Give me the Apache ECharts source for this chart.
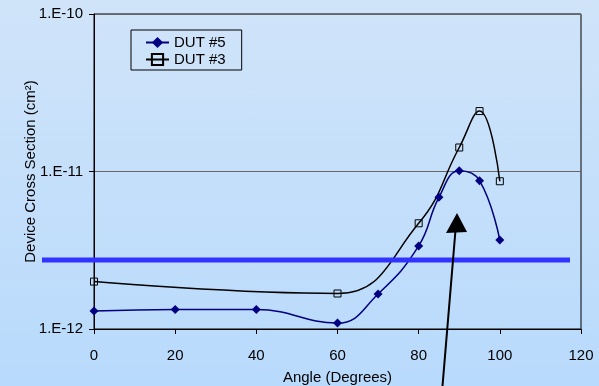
<!DOCTYPE html>
<html>
<head>
<meta charset="utf-8">
<script src="https://cdn.jsdelivr.net/npm/echarts@6/dist/echarts.min.js"></script>
<style>
  html, body { margin: 0; padding: 0; }
  #chart {
    width: 599px; height: 386px;
    background: linear-gradient(to bottom, #d0e4f9 0%, #b8dafc 100%);
  }
</style>
</head>
<body>
<div id="chart"></div>
<script>
// angle values (degrees) and device cross section (cm^2)
const dut5Angles = [0, 20, 40, 60, 70, 80, 85, 90, 95, 100]
const dut5Values = [1.30e-12, 1.33e-12, 1.33e-12, 1.09e-12, 1.67e-12, 3.37e-12, 6.86e-12, 1.01e-11, 8.75e-12, 3.67e-12]
const dut3Angles = [0, 60, 80, 90, 95, 100]
const dut3Values = [2.0e-12, 1.68e-12, 4.69e-12, 1.42e-11, 2.42e-11, 8.67e-12]
const xTicks = [0, 20, 40, 60, 80, 100, 120]
const thresholdValue = 2.74e-12

const font = 'Liberation Sans, Arial, sans-serif'

const zip = (xs, ys) => xs.map((x, i) => [x, ys[i]])

let chart = echarts.init(document.getElementById('chart'))

let option = {
  backgroundColor: 'transparent',
  animation: false,
  textStyle: {fontFamily: font},
  grid: {
    left: 94, right: 18, top: 14, bottom: 57,
    containLabel: false,
    outerBoundsMode: 'none',
    show: true, borderColor: '#000', borderWidth: 1
  },
  legend: {
    orient: 'vertical',
    left: 131, top: 30,
    padding: [5, 16, 3, 14],
    itemGap: 2,
    itemWidth: 23, itemHeight: 14,
    borderColor: '#000', borderWidth: 1,
    textStyle: {fontFamily: font, fontSize: 15, color: '#000'},
    data: ['DUT #5', 'DUT #3']
  },
  xAxis: {
    type: 'value',
    min: xTicks[0], max: xTicks[xTicks.length - 1], interval: 20,
    name: 'Angle (Degrees)',
    nameLocation: 'middle',
    nameGap: 41,
    nameMoveOverlap: false,
    nameTextStyle: {fontFamily: font, fontSize: 15, color: '#000'},
    axisLine: {lineStyle: {color: '#000', width: 1}},
    axisTick: {show: true, length: 5, lineStyle: {color: '#000'}},
    axisLabel: {margin: 19, fontFamily: font, fontSize: 15, color: '#000'},
    splitLine: {show: false}
  },
  yAxis: {
    type: 'log',
    logBase: 10,
    min: 1e-12, max: 1e-10,
    name: 'Device Cross Section (cm²)',
    nameLocation: 'middle',
    nameRotate: 90,
    nameGap: 56,
    nameMoveOverlap: false,
    nameTextStyle: {fontFamily: font, fontSize: 15, color: '#000'},
    axisLine: {show: true, lineStyle: {color: '#000', width: 1}},
    axisTick: {show: true, length: 5, lineStyle: {color: '#000'}},
    axisLabel: {
      margin: 11, fontFamily: font, fontSize: 15, color: '#000',
      formatter: v => '1.E' + Math.round(Math.log10(v))
    },
    splitLine: {show: true, lineStyle: {color: '#666', width: 1}}
  },
  series: [
    {
      name: 'DUT #5',
      type: 'line',
      smooth: 0.45,
      data: zip(dut5Angles, dut5Values),
      symbol: 'diamond',
      symbolSize: 9,
      lineStyle: {color: '#000080', width: 1.5},
      itemStyle: {color: '#000080'}
    },
    {
      name: 'DUT #3',
      type: 'line',
      smooth: 0.45,
      data: zip(dut3Angles, dut3Values),
      symbol: 'rect',
      symbolSize: 7,
      lineStyle: {color: '#000', width: 1.5},
      itemStyle: {color: 'rgba(0,0,0,0)', borderColor: '#000', borderWidth: 1}
    }
  ]
}

chart.setOption(option)

// annotations: threshold bar and arrow
let yBar = chart.convertToPixel({yAxisIndex: 0}, thresholdValue)
chart.setOption({
  graphic: [
    {
      type: 'line',
      shape: {x1: 42, y1: yBar, x2: 570, y2: yBar},
      style: {stroke: '#3333ff', lineWidth: 5},
      z: 10
    },
    {
      type: 'line',
      shape: {x1: 442.5, y1: 386, x2: 455.5, y2: 230},
      style: {stroke: '#000', lineWidth: 2},
      z: 10
    },
    {
      type: 'polygon',
      shape: {points: [[457, 213], [446, 233], [467, 232]]},
      style: {fill: '#000'},
      z: 10
    }
  ]
})
</script>
</body>
</html>
